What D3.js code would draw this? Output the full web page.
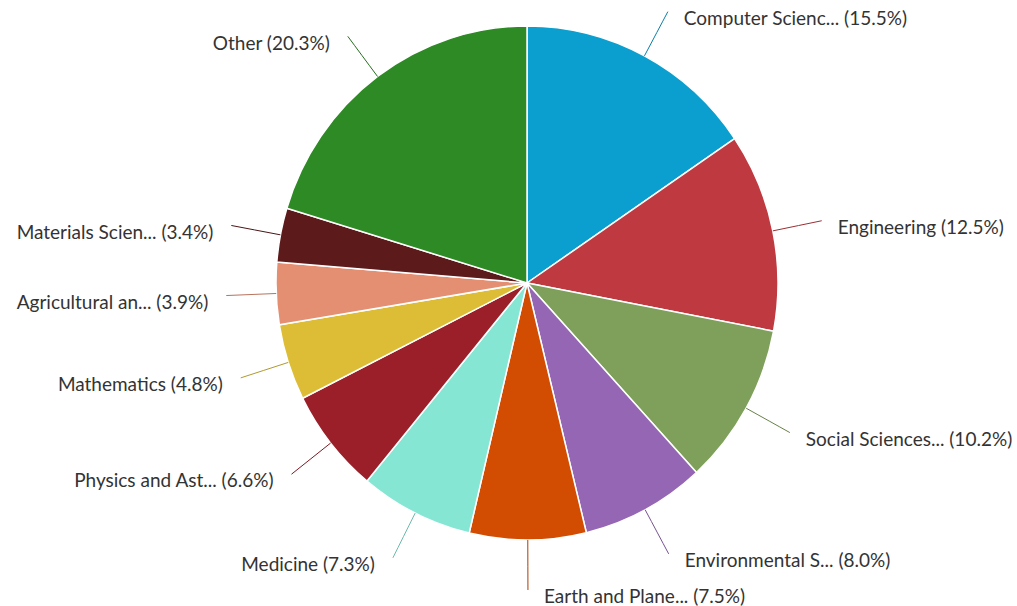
<!DOCTYPE html>
<html>
<head>
<meta charset="utf-8">
<script src="https://cdn.jsdelivr.net/npm/d3@7"></script>
<style>
  body { margin: 0; background: #fff; }
  svg { display: block; }
</style>
</head>
<body>
<div id="pie"></div>
<script>
// subject areas, clockwise from 12 o'clock
const categories = [
  'Computer Scienc...', 'Engineering', 'Social Sciences...', 'Environmental S...',
  'Earth and Plane...', 'Medicine', 'Physics and Ast...', 'Mathematics',
  'Agricultural an...', 'Materials Scien...', 'Other'
]
const shares = [15.5, 12.5, 10.2, 8.0, 7.5, 7.3, 6.6, 4.8, 3.9, 3.4, 20.3]
const sliceColors = [
  '#0a9fcf', '#bf3a40', '#7ea05a', '#9466b4', '#d24c02', '#86e6d4',
  '#9a1f29', '#dcbd35', '#e48e72', '#5c1a1b', '#2e8a24'
]

const width = 1017
const height = 606
const cx = 527, cy = 283
const rx = 251, ry = 257

const data = categories.map((name, i) => ({name, value: shares[i], color: sliceColors[i]}))

const pie = d3.pie().sort(null).value(d => d.value)
const arcs = pie(data)
const arc = d3.arc().innerRadius(0).outerRadius(rx)

const svg = d3.create('svg')
  .attr('width', width)
  .attr('height', height)
  .attr('viewBox', [0, 0, width, height])
  .attr('font-family', 'Lato, "Open Sans", sans-serif')
  .attr('font-size', 19)

document.getElementById('pie').appendChild(svg.node())

svg.append('rect').attr('width', width).attr('height', height).attr('fill', '#fff')

// slices (slightly taller than wide, like the original)
svg.append('g')
    .attr('transform', `translate(${cx},${cy}) scale(1,${ry / rx})`)
  .selectAll('path')
  .data(arcs)
  .join('path')
    .attr('d', arc)
    .attr('fill', d => d.data.color)
    .attr('stroke', '#fff')
    .attr('stroke-width', 1.5)
    .attr('vector-effect', 'non-scaling-stroke')

// label geometry
const dist = 50
const place = d => {
  const a = (d.startAngle + d.endAngle) / 2
  const s = Math.sin(a), c = Math.cos(a)
  const right = a < Math.PI
  return {
    x0: cx + rx * s, y0: cy - ry * c,
    xm: cx + (rx + dist * 0.55) * s, ym: cy - (ry + dist * 0.55) * c,
    x1: cx + (rx + dist) * s, y1: cy - (ry + dist) * c,
    right
  }
}

const labels = svg.append('g')
  .selectAll('g')
  .data(arcs)
  .join('g')

labels.append('path')
    .attr('d', d => {
      const p = place(d)
      return `M${p.x0},${p.y0}Q${p.xm},${p.ym} ${p.x1},${p.y1}`
    })
    .attr('fill', 'none')
    .attr('stroke', d => d3.color(d.data.color).darker(0.6))
    .attr('stroke-width', 1)

labels.append('text')
    .attr('x', d => { const p = place(d); return p.x1 + (p.right ? 16 : -18) })
    .attr('y', d => place(d).y1)
    .attr('dy', '0.7em')
    .attr('text-anchor', d => place(d).right ? 'start' : 'end')
    .attr('fill', '#333')
    .text(d => `${d.data.name} (${d.data.value.toFixed(1)}%)`)
</script>
</body>
</html>
